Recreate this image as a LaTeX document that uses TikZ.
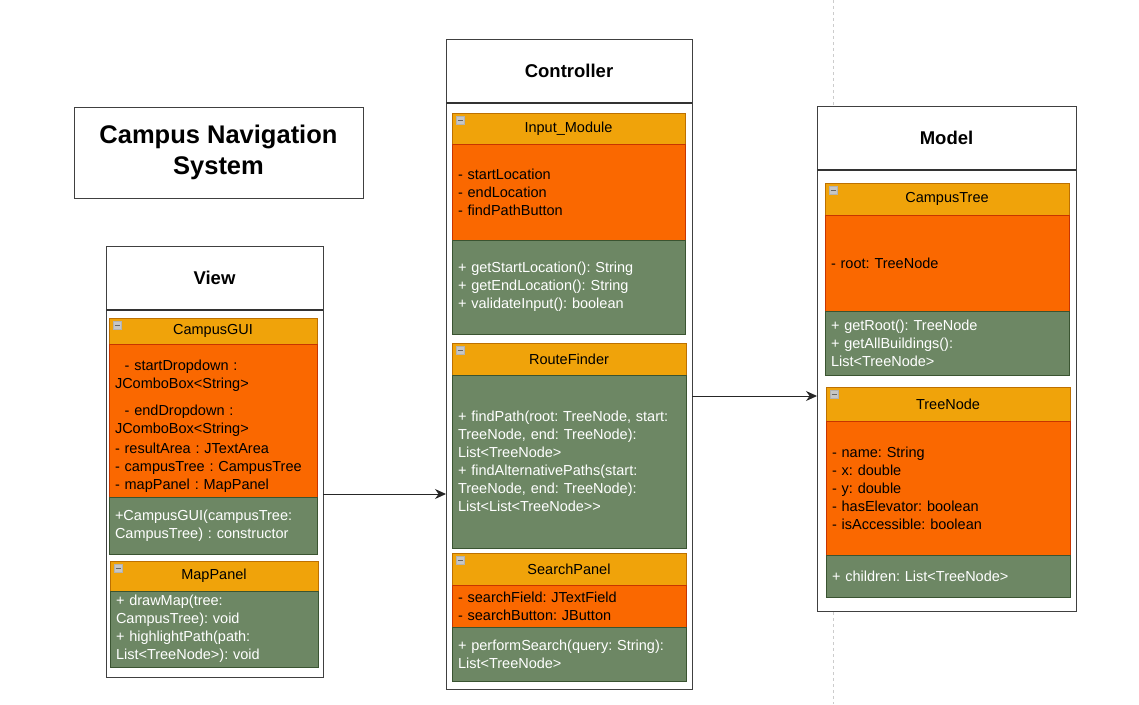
\documentclass[tikz,border=0pt]{standalone}
\usepackage{fontspec}
\setmainfont{Liberation Sans}
\frenchspacing
\usetikzlibrary{arrows.meta}
\definecolor{hdrorange}{HTML}{F0A30A}
\definecolor{hdrline}{HTML}{BD7000}
\definecolor{attrorange}{HTML}{FA6800}
\definecolor{attrline}{HTML}{C73500}
\definecolor{methgreen}{HTML}{6D8764}
\definecolor{methline}{HTML}{3A5431}
\tikzset{
  box/.style={anchor=north west,outer sep=0pt},
  pane/.style={box,draw=black!75,fill=white,line width=1pt},
  panehead/.style={box,draw=black!75,fill=white,line width=1pt,minimum height=64pt,font=\fontsize{18.5}{22}\selectfont\bfseries},
  hdr/.style={box,draw=hdrline,fill=hdrorange,font=\fontsize{14.5}{18}\selectfont,
    path picture={
      \draw[draw=gray!60,fill=gray!45] ([shift={(4pt,-3pt)}]path picture bounding box.north west) rectangle ++(8pt,-8pt);
      \draw[black!60,line width=1pt] ([shift={(5.5pt,-7pt)}]path picture bounding box.north west) -- ++(5pt,0pt);}},
  attr/.style={box,draw=attrline,fill=attrorange,font=\fontsize{14.5}{18}\selectfont\frenchspacing,align=left,inner xsep=6pt},
  meth/.style={box,draw=methline,fill=methgreen,text=white,font=\fontsize{14.5}{18}\selectfont\frenchspacing,align=left,inner xsep=6pt}
}

\begin{document}
\begin{tikzpicture}[x=1pt,y=-1pt]
\useasboundingbox (0,0) rectangle (1139,704);
\draw[dashed,gray!40,line width=1pt] (833,0) -- (833,704);

% title
\node[box,draw=black!75,line width=1pt,minimum width=289pt,minimum height=91pt,align=center,font=\fontsize{25.5}{31}\selectfont\bfseries] (title) at (74,107) {Campus Navigation\\System};

% view
\node[pane,minimum width=217pt,minimum height=431pt] (view) at (106,246) {};
\node[panehead,minimum width=217pt] (view-h) at (106,246) {View};
\draw[black!80,line width=2pt] (view-h.south west) -- (view-h.south east);
\node[hdr,minimum width=208pt,minimum height=26pt] (gui-h) at (109,318) {CampusGUI};
\node[attr,minimum width=208pt,minimum height=153pt,text width=196pt] (gui-a) at (109,344) {\mbox{}\\[4pt]\ \ - startDropdown :\\JComboBox<String>\\[9pt]\ \ - endDropdown :\\JComboBox<String>\\[2pt]- resultArea : JTextArea\\- campusTree : CampusTree\\- mapPanel : MapPanel};
\node[meth,minimum width=208pt,minimum height=57pt,text width=196pt] (gui-m) at (109,497) {+CampusGUI(campusTree:\\CampusTree) : constructor};
\node[hdr,minimum width=208pt,minimum height=30pt] (map-h) at (110,561) {MapPanel};
\node[meth,minimum width=208pt,minimum height=76pt,text width=196pt] (map-m) at (110,591) {+ drawMap(tree:\\CampusTree): void\\+ highlightPath(path:\\List<TreeNode>): void};

% controller
\node[pane,minimum width=246pt,minimum height=650pt] (ctrl) at (446,39) {};
\node[panehead,minimum width=246pt] (ctrl-h) at (446,39) {Controller};
\draw[black!80,line width=2pt] (ctrl-h.south west) -- (ctrl-h.south east);
\node[hdr,minimum width=233pt,minimum height=31pt] (in-h) at (452,113) {Input\_Module};
\node[attr,minimum width=233pt,minimum height=96pt,text width=221pt] (in-a) at (452,144) {- startLocation\\- endLocation\\- findPathButton};
\node[meth,minimum width=233pt,minimum height=94pt,text width=221pt] (in-m) at (452,240) {+ getStartLocation(): String\\+ getEndLocation(): String\\+ validateInput(): boolean};
\node[hdr,minimum width=234pt,minimum height=32pt] (rf-h) at (452,343) {RouteFinder};
\node[meth,minimum width=234pt,minimum height=173pt,text width=222pt] (rf-m) at (452,375) {+ findPath(root: TreeNode, start:\\TreeNode, end: TreeNode):\\List<TreeNode>\\+ findAlternativePaths(start:\\TreeNode, end: TreeNode):\\List<List<TreeNode>{}>};
\node[hdr,minimum width=234pt,minimum height=32pt] (sp-h) at (452,553) {SearchPanel};
\node[attr,minimum width=234pt,minimum height=42pt,text width=222pt] (sp-a) at (452,585) {- searchField: JTextField\\- searchButton: JButton};
\node[meth,minimum width=234pt,minimum height=54pt,text width=222pt] (sp-m) at (452,627) {+ performSearch(query: String):\\List<TreeNode>};

% model
\node[pane,minimum width=259pt,minimum height=505pt] (model) at (817,106) {};
\node[panehead,minimum width=259pt] (model-h) at (817,106) {Model};
\draw[black!80,line width=2pt] (model-h.south west) -- (model-h.south east);
\node[hdr,minimum width=244pt,minimum height=32pt] (ct-h) at (825,183) {CampusTree};
\node[attr,minimum width=244pt,minimum height=96pt,text width=232pt] (ct-a) at (825,215) {- root: TreeNode};
\node[meth,minimum width=244pt,minimum height=64pt,text width=232pt] (ct-m) at (825,311) {+ getRoot(): TreeNode\\+ getAllBuildings():\\List<TreeNode>};
\node[hdr,minimum width=244pt,minimum height=34pt] (tn-h) at (826,387) {TreeNode};
\node[attr,minimum width=244pt,minimum height=134pt,text width=232pt] (tn-a) at (826,421) {- name: String\\- x: double\\- y: double\\- hasElevator: boolean\\- isAccessible: boolean};
\node[meth,minimum width=244pt,minimum height=42pt,text width=232pt] (tn-m) at (826,555) {+ children: List<TreeNode>};

\path[-{Stealth[length=11pt,width=10pt]},color=black!85,line width=1pt]
(view.east |- 0,494) edge (ctrl.west |- 0,494)
(ctrl.east |- 0,396) edge (model.west |- 0,396);
\end{tikzpicture}
\end{document}
